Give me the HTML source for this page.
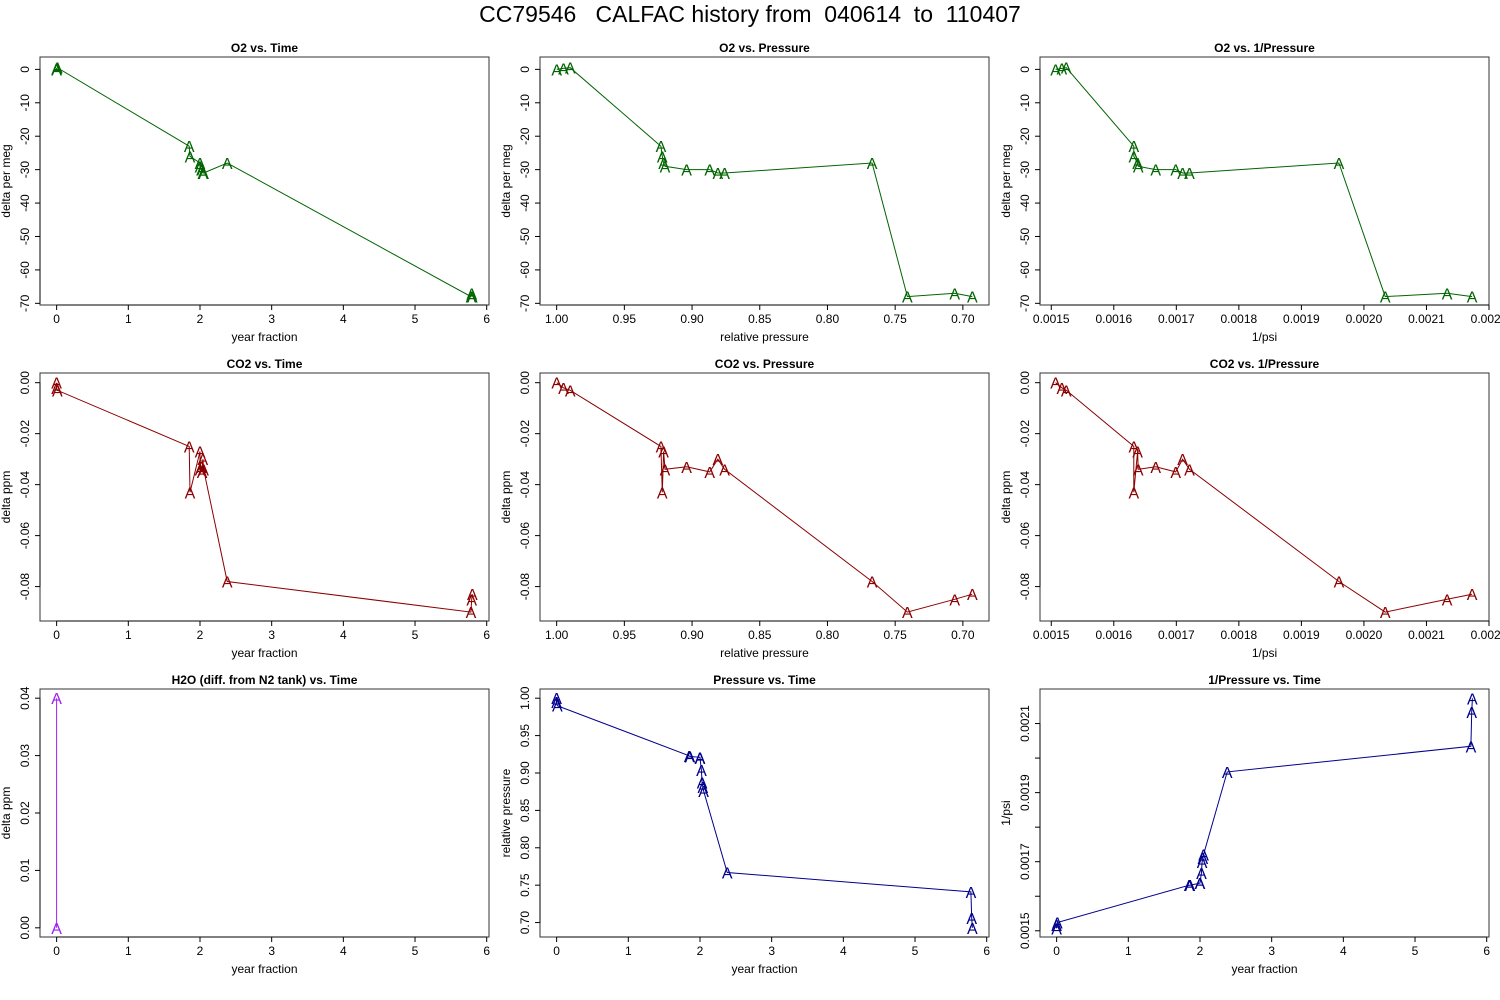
<!DOCTYPE html>
<html><head><meta charset="utf-8"><style>
html,body{margin:0;padding:0;background:#fff;}
svg{display:block;font-family:"Liberation Sans",sans-serif;}
</style></head><body>
<svg id="fig" width="1500" height="1000" viewBox="0 0 1500 1000">
<text x="750" y="22" text-anchor="middle" font-size="23" style="white-space:pre" xml:space="preserve">CC79546   CALFAC history from  040614  to  110407</text>
</svg>
<script>
// data (time order)
const times = [0.00, 0.00, 0.01, 1.85, 1.86, 2.00, 2.00, 2.02, 2.03, 2.04, 2.05, 2.38, 5.78, 5.79, 5.80];
const pressures = [1.000, 0.995, 0.990, 0.923, 0.922, 0.921, 0.920, 0.904, 0.887, 0.881, 0.876, 0.767, 0.741, 0.706, 0.693];
const invPsi = [0.001507, 0.001517, 0.001524, 0.001632, 0.001632, 0.001638, 0.001639, 0.001667, 0.001699, 0.001710, 0.001721, 0.001960, 0.002034, 0.002133, 0.002173];
const o2 = [0, 0.3, 0.5, -23, -26, -28, -29, -30, -30, -31, -31, -28, -68, -67, -68];
const co2 = [0.000, -0.002, -0.003, -0.025, -0.043, -0.027, -0.034, -0.033, -0.035, -0.030, -0.034, -0.078, -0.090, -0.085, -0.083];
const h2oTimes = [0, 0];
const h2oVals = [0.04, 0.00];
// ticks
const timeTicks = [0, 1, 2, 3, 4, 5, 6];
const timeLabels = ["0", "1", "2", "3", "4", "5", "6"];
const presTicks = [1.00, 0.95, 0.90, 0.85, 0.80, 0.75, 0.70];
const presLabels = ["1.00", "0.95", "0.90", "0.85", "0.80", "0.75", "0.70"];
const invTicks = [0.0015, 0.0016, 0.0017, 0.0018, 0.0019, 0.0020, 0.0021, 0.0022];
const invLabels = ["0.0015", "0.0016", "0.0017", "0.0018", "0.0019", "0.0020", "0.0021", "0.0022"];
const invYTicks = [0.0015, 0.0016, 0.0017, 0.0018, 0.0019, 0.0020, 0.0021];
const invYLabels = ["0.0015", "", "0.0017", "", "0.0019", "", "0.0021"];
const o2Ticks = [0, -10, -20, -30, -40, -50, -60, -70];
const o2Labels = ["0", "-10", "-20", "-30", "-40", "-50", "-60", "-70"];
const co2Ticks = [0, -0.02, -0.04, -0.06, -0.08];
const co2Labels = ["0.00", "-0.02", "-0.04", "-0.06", "-0.08"];
const h2oTicks = [0, 0.01, 0.02, 0.03, 0.04];
const h2oLabels = ["0.00", "0.01", "0.02", "0.03", "0.04"];
const presYTicks = [0.70, 0.75, 0.80, 0.85, 0.90, 0.95, 1.00];
const presYLabels = ["0.70", "0.75", "0.80", "0.85", "0.90", "0.95", "1.00"];

const NS = "http://www.w3.org/2000/svg";
const svg = document.getElementById('fig');
function mk(tag, attrs, parent) {
  const e = document.createElementNS(NS, tag);
  for (const k in attrs) e.setAttribute(k, attrs[k]);
  (parent || svg).appendChild(e);
  return e;
}
const GREEN = "#006400", RED = "#8B0000", BLUE = "#00008B", PURPLE = "#A020F0";
const TDOM = [-0.232, 6.032], PDOM = [1.0123, 0.6807], IDOM = [0.001482, 0.0022];
const O2DOM = [-70.5, 3.7], CO2DOM = [-0.0935, 0.0038], H2ODOM = [-0.0016, 0.0416];
const PYDOM = [0.6807, 1.0123], IYDOM = [0.001482, 0.0022];

function panel(cfg) {
  const L = 40 + cfg.col * 500, R = L + 449, T = 57 + cfg.row * 316, B = T + 248;
  const g = mk('g', {});
  
  
  const sx = v => L + (v - cfg.xd[0]) / (cfg.xd[1] - cfg.xd[0]) * (R - L);
  const sy = v => B - (v - cfg.yd[0]) / (cfg.yd[1] - cfg.yd[0]) * (B - T);
  const t = mk('text', {x: (L + R) / 2, y: T - 5, 'text-anchor': 'middle', 'font-size': 12, 'font-weight': 'bold'}, g);
  t.textContent = cfg.title;
  
  
  const box = mk('rect', {x: L, y: T, width: R - L, height: B - T, fill: 'none', stroke: '#333', 'stroke-width': 1}, g);
  
  
  const xa = mk('g', {}, g);
  
  
  const xpos = cfg.xt.map(sx);
  mk('line', {x1: Math.min(...xpos), x2: Math.max(...xpos), y1: B, y2: B, stroke: '#000'}, xa);
  cfg.xt.forEach((v, i) => {
    const x = sx(v);
    mk('line', {x1: x, x2: x, y1: B, y2: B + 5, stroke: '#000'}, xa);
    const tl = mk('text', {x: x, y: B + 18, 'text-anchor': 'middle', 'font-size': 12}, xa);
    tl.textContent = cfg.xl[i];
    
    
  });
  const xt = mk('text', {x: (L + R) / 2, y: B + 36, 'text-anchor': 'middle', 'font-size': 12}, g);
  xt.textContent = cfg.xlab;
  
  
  const ya = mk('g', {}, g);
  
  
  const ypos = cfg.yt.map(sy);
  mk('line', {x1: L, x2: L, y1: Math.min(...ypos), y2: Math.max(...ypos), stroke: '#000'}, ya);
  cfg.yt.forEach((v, i) => {
    const y = sy(v);
    mk('line', {x1: L, x2: L - 5, y1: y, y2: y, stroke: '#000'}, ya);
    if (cfg.yl[i]) {
      const tl = mk('text', {x: L - 15, y: y, 'text-anchor': 'middle', 'font-size': 12, transform: `rotate(-90 ${L - 15} ${y})`, dy: '0.35em'}, ya);
      tl.textContent = cfg.yl[i];
      
      
    }
  });
  const yx = L - 34, yy = (T + B) / 2;
  const yt = mk('text', {x: yx, y: yy, 'text-anchor': 'middle', 'font-size': 12, transform: `rotate(-90 ${yx} ${yy})`, dy: '0.35em'}, g);
  yt.textContent = cfg.ylab;
  
  
  const pts = cfg.xs.map((v, i) => sx(v).toFixed(1) + ',' + sy(cfg.ys[i]).toFixed(1)).join(' ');
  const pl = mk('polyline', {points: pts, fill: 'none', stroke: cfg.color, 'stroke-width': 1}, g);
  
  
  cfg.xs.forEach((v, i) => {
    const m = mk('text', {x: sx(v), y: sy(cfg.ys[i]) + 6, 'text-anchor': 'middle', 'font-size': 16, fill: cfg.color}, g);
    m.textContent = 'A';
    
    
  });
}

panel({name: 'o2-vs-time-panel', row: 0, col: 0, title: 'O2 vs. Time', xlab: 'year fraction', ylab: 'delta per meg', xd: TDOM, yd: O2DOM, xt: timeTicks, xl: timeLabels, yt: o2Ticks, yl: o2Labels, xs: times, ys: o2, color: GREEN});
panel({name: 'o2-vs-pressure-panel', row: 0, col: 1, title: 'O2 vs. Pressure', xlab: 'relative pressure', ylab: 'delta per meg', xd: PDOM, yd: O2DOM, xt: presTicks, xl: presLabels, yt: o2Ticks, yl: o2Labels, xs: pressures, ys: o2, color: GREEN});
panel({name: 'o2-vs-inv-pressure-panel', row: 0, col: 2, title: 'O2 vs. 1/Pressure', xlab: '1/psi', ylab: 'delta per meg', xd: IDOM, yd: O2DOM, xt: invTicks, xl: invLabels, yt: o2Ticks, yl: o2Labels, xs: invPsi, ys: o2, color: GREEN});
panel({name: 'co2-vs-time-panel', row: 1, col: 0, title: 'CO2 vs. Time', xlab: 'year fraction', ylab: 'delta ppm', xd: TDOM, yd: CO2DOM, xt: timeTicks, xl: timeLabels, yt: co2Ticks, yl: co2Labels, xs: times, ys: co2, color: RED});
panel({name: 'co2-vs-pressure-panel', row: 1, col: 1, title: 'CO2 vs. Pressure', xlab: 'relative pressure', ylab: 'delta ppm', xd: PDOM, yd: CO2DOM, xt: presTicks, xl: presLabels, yt: co2Ticks, yl: co2Labels, xs: pressures, ys: co2, color: RED});
panel({name: 'co2-vs-inv-pressure-panel', row: 1, col: 2, title: 'CO2 vs. 1/Pressure', xlab: '1/psi', ylab: 'delta ppm', xd: IDOM, yd: CO2DOM, xt: invTicks, xl: invLabels, yt: co2Ticks, yl: co2Labels, xs: invPsi, ys: co2, color: RED});
panel({name: 'h2o-vs-time-panel', row: 2, col: 0, title: 'H2O (diff. from N2 tank) vs. Time', xlab: 'year fraction', ylab: 'delta ppm', xd: TDOM, yd: H2ODOM, xt: timeTicks, xl: timeLabels, yt: h2oTicks, yl: h2oLabels, xs: h2oTimes, ys: h2oVals, color: PURPLE});
panel({name: 'pressure-vs-time-panel', row: 2, col: 1, title: 'Pressure vs. Time', xlab: 'year fraction', ylab: 'relative pressure', xd: TDOM, yd: PYDOM, xt: timeTicks, xl: timeLabels, yt: presYTicks, yl: presYLabels, xs: times, ys: pressures, color: BLUE});
panel({name: 'inv-pressure-vs-time-panel', row: 2, col: 2, title: '1/Pressure vs. Time', xlab: 'year fraction', ylab: '1/psi', xd: TDOM, yd: IYDOM, xt: timeTicks, xl: timeLabels, yt: invYTicks, yl: invYLabels, xs: times, ys: invPsi, color: BLUE});
</script>
</body></html>
